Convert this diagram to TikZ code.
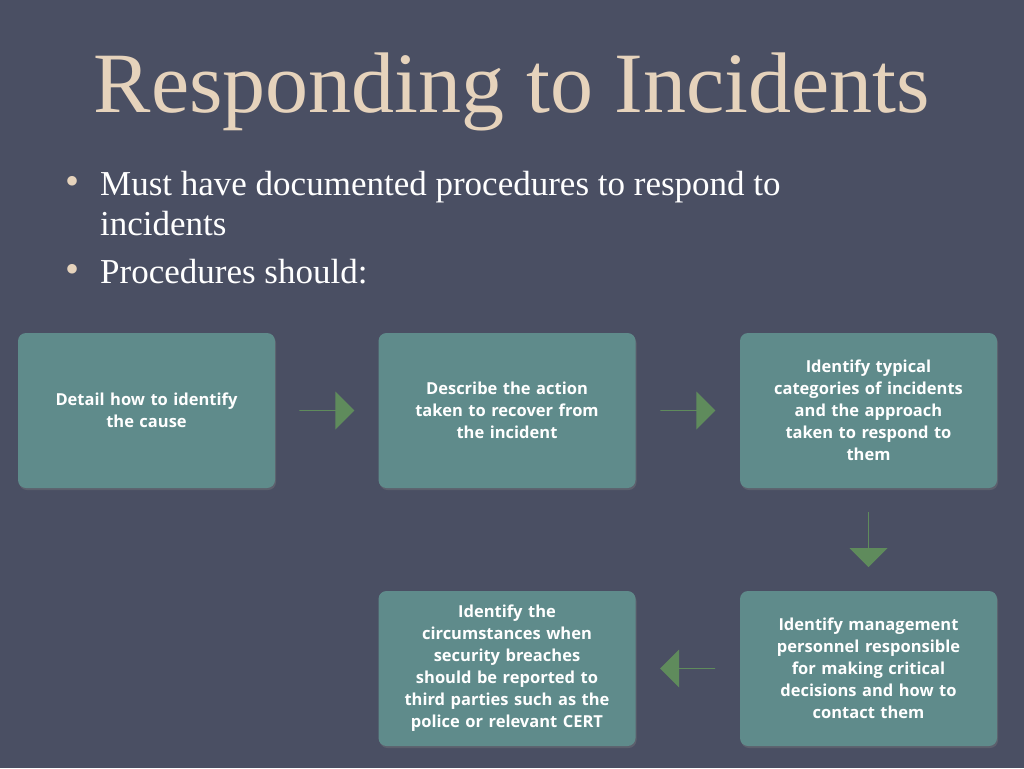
\documentclass[tikz,border=0pt]{standalone}
\usepackage{fontspec}
\setmainfont{Liberation Serif}
\newfontfamily\boxfont{Open Sans}
\usetikzlibrary{shapes.arrows,shadows,calc}
\definecolor{bg}{HTML}{4A4F63}
\definecolor{titlec}{HTML}{E6D3BC}
\definecolor{boxc}{HTML}{5F8B8B}
\definecolor{arrc}{HTML}{5F8B5C}
\definecolor{bulc}{HTML}{E6D3BC}
\tikzset{
  stepbox/.style={draw=none,fill=boxc,rounded corners=8pt,minimum width=257pt,minimum height=155pt,
    text width=240pt,align=center,text=white,font=\boxfont\bfseries\fontsize{16.5}{22}\selectfont,
    drop shadow={shadow xshift=1pt,shadow yshift=-2pt,opacity=0.35}},
  flowarrow/.style={single arrow,fill=arrc,draw=none,minimum height=55pt,minimum width=38pt,
    single arrow head extend=13pt,single arrow tip angle=90,inner sep=0pt},
  bullet/.style={text=bulc,font=\fontsize{40}{40}\selectfont,anchor=base},
  btext/.style={text=white,font=\fontsize{35}{40}\selectfont,anchor=base west,inner sep=0pt}
}
\begin{document}
\begin{tikzpicture}[x=1pt,y=-1pt]
\fill[bg] (0,0) rectangle (1024,768);
\useasboundingbox (0,0) rectangle (1024,768);
\node[text=titlec,font=\fontsize{86}{86}\selectfont,anchor=base,inner sep=0pt] (title) at (512,112) {Responding to Incidents};
\node[bullet] (b1) at (73,194) {•};
\node[btext] (t1) at (100,195) {Must have documented procedures to respond to};
\node[btext] (t1b) at (100,235) {incidents};
\node[bullet] (b2) at (73,282) {•};
\node[btext] (t2) at (100,283) {Procedures should:};
\node[stepbox] (s1) at (146.5,410.5) {Detail how to identify\\the cause};
\node[stepbox] (s2) at (507,410.5) {Describe the action\\taken to recover from\\the incident};
\node[stepbox] (s3) at (868.5,410.5) {Identify typical\\categories of incidents\\and the approach\\taken to respond to\\them};
\node[stepbox] (s4) at (868.5,668.5) {Identify management\\personnel responsible\\for making critical\\decisions and how to\\contact them};
\node[stepbox] (s5) at (507,668.5) {Identify the\\circumstances when\\security breaches\\should be reported to\\third parties such as the\\police or relevant CERT};
\node[flowarrow] (a1) at ($(s1.east)!0.5!(s2.west)$) {};
\node[flowarrow] (a2) at ($(s2.east)!0.5!(s3.west)$) {};
\node[flowarrow,shape border rotate=270] (a3) at ($(s3.south)!0.5!(s4.north)$) {};
\node[flowarrow,shape border rotate=180] (a4) at ($(s4.west)!0.5!(s5.east)$) {};
\end{tikzpicture}
\end{document}
